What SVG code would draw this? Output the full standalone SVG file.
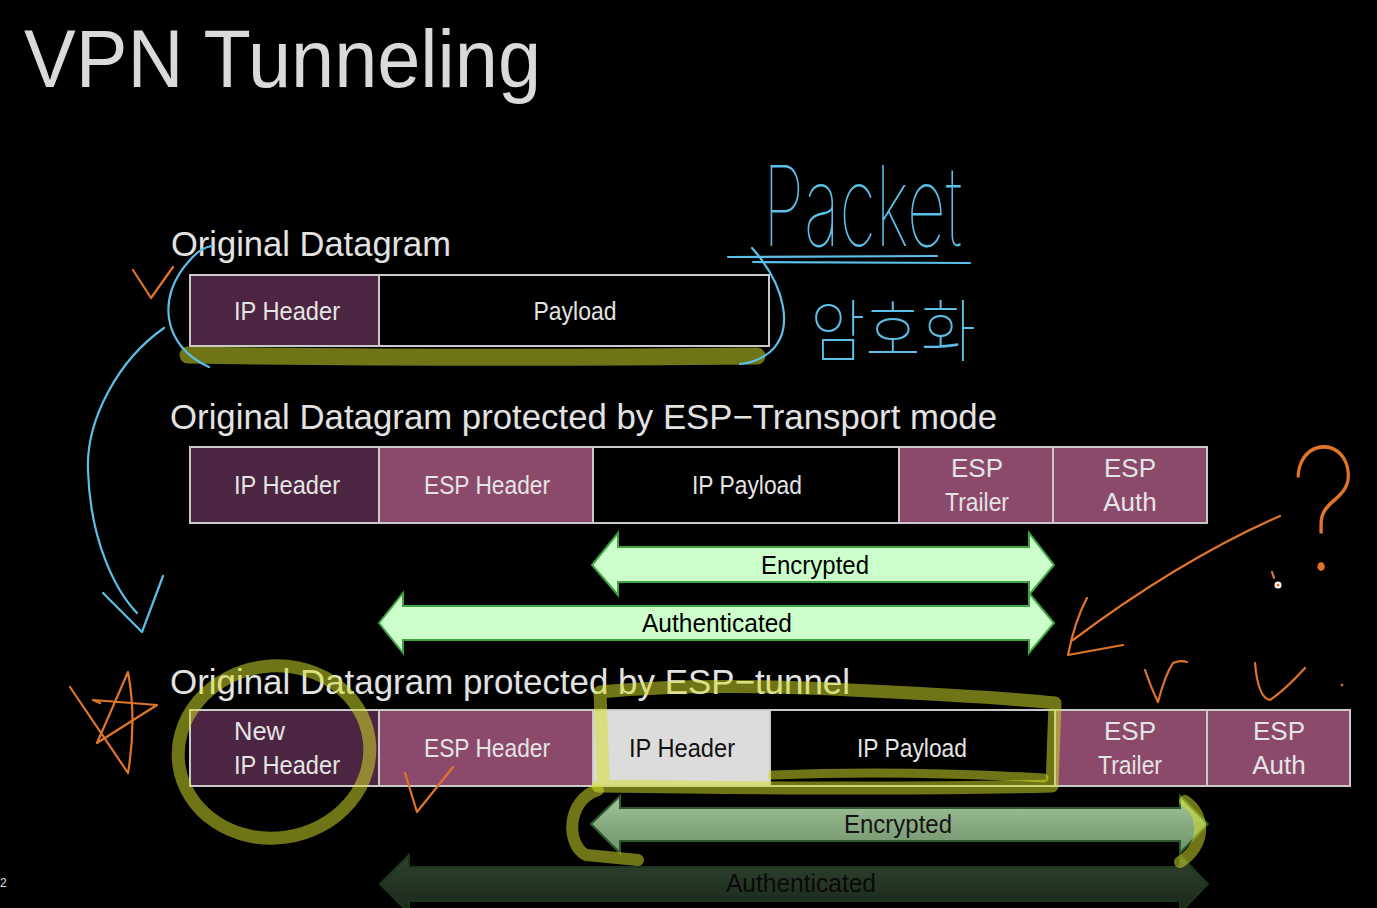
<svg xmlns="http://www.w3.org/2000/svg" width="1377" height="908" viewBox="0 0 1377 908">
<defs>
<style>
.bg{fill:#000}
.t{font-family:"Liberation Sans",Arial,sans-serif;fill:#e4e4e4}
.title{font-size:82px;fill:#dadada}
.h{font-size:35px;fill:#e2e2e2}
.c{font-size:26px;text-anchor:middle}
.cell{stroke:#c9c9c9;stroke-width:2}
.dk{fill:#4b2541}
.md{fill:#8b4a6c}
.bk{fill:#000}
.lt{fill:#dcdcdc}
.arr1{fill:#ccffcc;stroke:#3fa33f;stroke-width:2}
.arr2{fill:url(#g2);stroke:#2d5a2d;stroke-width:2}
.arr3{fill:url(#g3);stroke:#1c361c;stroke-width:2}
.at{font-family:"Liberation Sans",Arial,sans-serif;font-size:25px;text-anchor:middle}
.blue{fill:none;stroke:#5bbfe8;stroke-width:2.2;stroke-linecap:round;stroke-linejoin:round}
.or{fill:none;stroke:#e0752a;stroke-width:2.2;stroke-linecap:round;stroke-linejoin:round}
.ol{fill:none;stroke:#d4e02a;stroke-opacity:0.52;stroke-linecap:round;stroke-linejoin:round}
</style>
<linearGradient id="g2" x1="0" y1="0" x2="0" y2="1">
<stop offset="0" stop-color="#a3c59c"/>
<stop offset="1" stop-color="#6f9169"/>
</linearGradient>
<linearGradient id="g3" x1="0" y1="0" x2="0" y2="1">
<stop offset="0" stop-color="#2e432e"/>
<stop offset="1" stop-color="#1a281a"/>
</linearGradient>
</defs>
<rect class="bg" x="0" y="0" width="1377" height="908"/>

<text class="t title" x="24" y="87" textLength="517" lengthAdjust="spacingAndGlyphs">VPN Tunneling</text>

<g id="heading1"><text class="t h" x="171" y="256" textLength="280" lengthAdjust="spacingAndGlyphs">Original Datagram</text></g>
<g id="heading2"><text class="t h" x="170" y="429" textLength="827" lengthAdjust="spacingAndGlyphs">Original Datagram protected by ESP−Transport mode</text></g>
<g id="heading3"><text class="t h" x="170" y="694" textLength="680" lengthAdjust="spacingAndGlyphs">Original Datagram protected by ESP−tunnel</text></g>

<!-- Row 1 -->
<g id="r1-ipheader"><rect class="cell dk" x="190" y="275" width="189" height="71"/><text class="t c" x="287" y="320" textLength="106" lengthAdjust="spacingAndGlyphs">IP Header</text></g>
<g id="r1-payload"><rect class="cell bk" x="379" y="275" width="390" height="71"/><text class="t c" x="575" y="320" textLength="83" lengthAdjust="spacingAndGlyphs">Payload</text></g>

<!-- Row 2 -->
<g id="r2-ipheader"><rect class="cell dk" x="190" y="447" width="189" height="76"/><text class="t c" x="287" y="494" textLength="106" lengthAdjust="spacingAndGlyphs">IP Header</text></g>
<g id="r2-espheader"><rect class="cell md" x="379" y="447" width="214" height="76"/><text class="t c" x="487" y="494" textLength="126" lengthAdjust="spacingAndGlyphs">ESP Header</text></g>
<g id="r2-ippayload"><rect class="cell bk" x="593" y="447" width="306" height="76"/><text class="t c" x="747" y="494" textLength="110" lengthAdjust="spacingAndGlyphs">IP Payload</text></g>
<g id="r2-esptrailer"><rect class="cell md" x="899" y="447" width="154" height="76"/><text class="t c" x="977" y="477">ESP</text><text class="t c" x="977" y="511" textLength="64" lengthAdjust="spacingAndGlyphs">Trailer</text></g>
<g id="r2-espauth"><rect class="cell md" x="1053" y="447" width="154" height="76"/><text class="t c" x="1130" y="477">ESP</text><text class="t c" x="1130" y="511">Auth</text></g>

<g id="r2-encrypted"><polygon class="arr1" points="592,565 618,533 618,547 1029,547 1029,533 1054,565 1029,595 1029,582 618,582 618,595"/><text class="at" x="815" y="574" fill="#000" textLength="108" lengthAdjust="spacingAndGlyphs">Encrypted</text></g>
<g id="r2-authenticated"><polygon class="arr1" points="379,623 403,593 403,606 1029,606 1029,593 1054,623 1029,653 1029,640 403,640 403,653"/><text class="at" x="717" y="632" fill="#000" textLength="150" lengthAdjust="spacingAndGlyphs">Authenticated</text></g>

<!-- Row 3 -->
<g id="r3-newipheader"><rect class="cell dk" x="190" y="710" width="189" height="76"/><text class="t" x="234" y="740" font-size="26" textLength="51" lengthAdjust="spacingAndGlyphs">New</text><text class="t" x="234" y="774" font-size="26" textLength="106" lengthAdjust="spacingAndGlyphs">IP Header</text></g>
<g id="r3-espheader"><rect class="cell md" x="379" y="710" width="214" height="76"/><text class="t c" x="487" y="757" textLength="126" lengthAdjust="spacingAndGlyphs">ESP Header</text></g>
<g id="r3-ipheader"><rect class="cell lt" x="593" y="710" width="177" height="76"/><text class="t c" x="682" y="757" style="fill:#111" textLength="106" lengthAdjust="spacingAndGlyphs">IP Header</text></g>
<g id="r3-ippayload"><rect class="cell bk" x="770" y="710" width="285" height="76"/><text class="t c" x="912" y="757" textLength="110" lengthAdjust="spacingAndGlyphs">IP Payload</text></g>
<g id="r3-esptrailer"><rect class="cell md" x="1055" y="710" width="152" height="76"/><text class="t c" x="1130" y="740">ESP</text><text class="t c" x="1130" y="774" textLength="64" lengthAdjust="spacingAndGlyphs">Trailer</text></g>
<g id="r3-espauth"><rect class="cell md" x="1207" y="710" width="143" height="76"/><text class="t c" x="1279" y="740">ESP</text><text class="t c" x="1279" y="774">Auth</text></g>

<g id="r3-encrypted"><polygon class="arr2" points="591,824 620,796 620,808 1180,808 1180,796 1208,824 1180,853 1180,841 620,841 620,853"/><text class="at" x="898" y="833" fill="#141414" textLength="108" lengthAdjust="spacingAndGlyphs">Encrypted</text></g>
<g id="r3-authenticated"><polygon class="arr3" points="380,884 409,855 409,867 1180,867 1180,855 1208,884 1180,913 1180,901 409,901 409,913"/><text class="at" x="801" y="892" fill="#0a0a0a" textLength="150" lengthAdjust="spacingAndGlyphs">Authenticated</text></g>

<text x="0" y="887" font-family="Liberation Sans,Arial,sans-serif" font-size="12" fill="#e0e0e0">2</text>

<!-- Annotations -->
<g id="annotations">
<!-- olive highlights -->
<path class="ol" stroke-width="17" stroke-linecap="butt" d="M188,355 Q450,359 757,356"/>
<ellipse class="ol" stroke-width="13" cx="274" cy="752" rx="96" ry="86" transform="rotate(-8 274 752)"/>
<path class="ol" stroke-width="13" d="M603,776 L600,692 Q700,682 850,690 Q1000,697 1055,703 L1052,786 Q900,790 598,786"/>
<path class="ol" stroke-width="9" d="M772,775 Q900,770 1044,778"/>
<path class="ol" stroke-width="12" d="M598,790 C566,800 566,845 586,855 L638,860"/>
<path class="ol" stroke-width="12" d="M1185,801 C1206,815 1206,846 1180,862"/>

<!-- blue -->
<path class="blue" d="M212,246 Q200,248 190,260 C156,296 162,346 209,367"/>
<path class="blue" d="M164,328 C118,360 86,420 88,470 C90,540 115,590 137,613"/>
<path class="blue" d="M103,593 L142,632 L163,576"/>
<path class="blue" d="M752,248 C785,285 795,330 770,352 C760,360 750,363 740,364"/>
<path class="blue" d="M728,257 L937,256"/>
<path class="blue" d="M753,262 L970,263"/>
<text x="763" y="246" font-family="Inter,'Noto Sans',sans-serif" font-weight="100" font-size="112" fill="#5bbfe8" textLength="199" lengthAdjust="spacingAndGlyphs">Packet</text>
<text x="810" y="356" font-family="'Noto Sans CJK KR',sans-serif" font-weight="100" font-size="68" fill="#5bbfe8" textLength="166" lengthAdjust="spacingAndGlyphs">암호화</text>

<!-- orange -->
<path class="or" d="M133,270 L151,298 L173,267"/>
<path class="or" d="M405,773 L417,812 L453,767"/>
<path class="or" d="M1145,670 Q1152,690 1158,702 Q1165,675 1173,663 Q1180,660 1187,662"/>
<path class="or" d="M1255,663 Q1258,698 1270,700 Q1285,690 1305,668"/>
<circle cx="1342" cy="685" r="1.3" fill="#e0752a"/>
<path class="or" d="M70,687 L128,773 Q137,720 128,672 L97,743 L157,705 L93,700 L100,703"/>
<path class="or" d="M1280,516 Q1180,560 1073,640"/>
<path class="or" d="M1087,598 Q1075,620 1068,655 L1123,645"/>
<text x="1290" y="570" font-family="Inter,'Noto Sans',sans-serif" font-weight="100" font-size="170" fill="#e0752a" textLength="68" lengthAdjust="spacingAndGlyphs">?</text>
<path class="or" d="M1272,572 L1274,578"/>
<circle cx="1278" cy="585" r="3.5" fill="#fff"/>
<circle cx="1278" cy="585" r="1.5" fill="#e0752a"/>
</g>
</svg>
